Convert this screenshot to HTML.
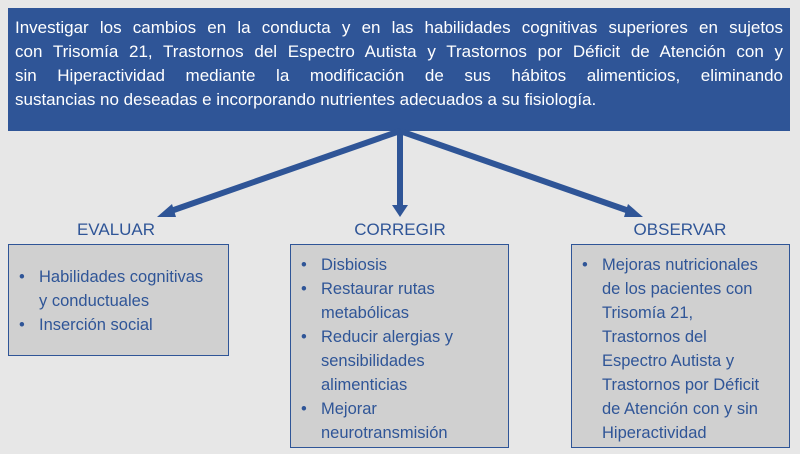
<!DOCTYPE html>
<html><head><meta charset="utf-8"><style>
body{margin:0;width:800px;height:454px;background:#e7e7e7;position:relative;overflow:hidden;font-family:"Liberation Sans",sans-serif}
.top{position:absolute;left:8px;top:8px;width:782px;height:123px;background:#2f5597;color:#fff;font-size:17px}
.top div{position:absolute;left:7px;width:768px;text-align:justify;text-align-last:justify;line-height:24px;white-space:nowrap}
.top div.l{text-align-last:left}
.lab{position:absolute;top:220px;color:#2f5597;font-size:17px;text-align:center;width:200px}
.box{position:absolute;top:244px;background:#d0d0d0;border:1px solid #2f5597;box-sizing:border-box;color:#2f5597;font-size:16.5px;line-height:24px}
.it{position:relative;padding-left:20px;margin-left:10px}
.it:before{content:"•";position:absolute;left:0}
</style></head><body>
<div class="top">
<div style="top:8px">Investigar los cambios en la conducta y en las habilidades cognitivas superiores en sujetos</div>
<div style="top:32px">con Trisomía 21, Trastornos del Espectro Autista y Trastornos por Déficit de Atención con y</div>
<div style="top:56px">sin Hiperactividad mediante la modificación de sus hábitos alimenticios, eliminando</div>
<div class="l" style="top:80px">sustancias no deseadas e incorporando nutrientes adecuados a su fisiología.</div>
</div>
<svg width="800" height="454" style="position:absolute;left:0;top:0">
<g stroke="#2f5597" stroke-width="6" fill="#2f5597">
<line x1="400" y1="131" x2="168" y2="212"/>
<line x1="400" y1="131" x2="400" y2="206"/>
<line x1="400" y1="131" x2="632" y2="212"/>
</g>
<g fill="#2f5597">
<polygon points="157,217 172,204 176,217"/>
<polygon points="392,205 408,205 400,217"/>
<polygon points="643,217 628,204 624,217"/>
</g>
</svg>
<div class="lab" style="left:16px">EVALUAR</div>
<div class="lab" style="left:300px">CORREGIR</div>
<div class="lab" style="left:580px">OBSERVAR</div>
<div class="box" style="left:8px;width:221px;height:112px;padding-top:20px">
<div class="it">Habilidades cognitivas<br>y conductuales</div>
<div class="it">Inserción social</div>
</div>
<div class="box" style="left:290px;width:219px;height:204px;padding-top:8px">
<div class="it">Disbiosis</div>
<div class="it">Restaurar rutas<br>metabólicas</div>
<div class="it">Reducir alergias y<br>sensibilidades<br>alimenticias</div>
<div class="it">Mejorar<br>neurotransmisión</div>
</div>
<div class="box" style="left:571px;width:219px;height:204px;padding-top:8px">
<div class="it">Mejoras nutricionales<br>de los pacientes con<br>Trisomía 21,<br>Trastornos del<br>Espectro Autista y<br>Trastornos por Déficit<br>de Atención con y sin<br>Hiperactividad</div>
</div>
</body></html>
